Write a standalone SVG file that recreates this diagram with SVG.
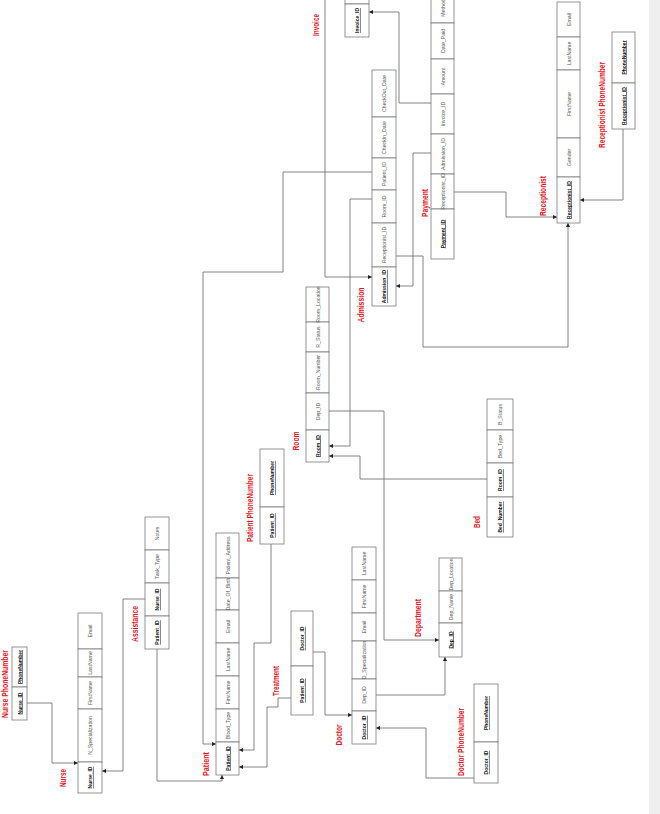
<svg xmlns="http://www.w3.org/2000/svg" width="660" height="814" viewBox="0 0 660 814">
<style>
.cell{fill:#fff;stroke:#7a7a7a;stroke-width:0.8}
.t{font-family:"Liberation Sans",Arial,sans-serif;font-size:5.2px;fill:#555;text-anchor:middle;dominant-baseline:central}
.k{font-family:"Liberation Sans",Arial,sans-serif;font-size:5px;font-weight:bold;fill:#111;text-anchor:middle;dominant-baseline:central;text-decoration:underline}
.lbl{font-family:"Liberation Sans",Arial,sans-serif;font-size:9px;font-weight:bold;fill:#e8141b;text-anchor:middle;dominant-baseline:central}
.conn polyline{fill:none;stroke:#666;stroke-width:0.8;marker-end:url(#ah)}
</style>
<defs>
<marker id="ah" viewBox="0 0 6 6" refX="6" refY="3" markerWidth="4" markerHeight="4" orient="auto" markerUnits="userSpaceOnUse"><path d="M0,0 L6,3 L0,6 z" fill="#222"/></marker>
</defs>
<rect x="0" y="0" width="660" height="814" fill="#fff"/>
<rect x="649" y="0" width="11" height="814" fill="#efefef"/>

<g id="connectors" class="conn">
<polyline points="27,703 52,703 52,763 78,763"/>
<polyline points="145,599 123,599 123,771 102,771"/>
<polyline points="157,649 157,781 222,781 222,775"/>
<polyline points="372,172 283,172 283,272 203,272 203,744 216,744"/>
<polyline points="271,544 271,643 254,643 254,750 239,750"/>
<polyline points="291,698 278,698 278,707 267,707 267,767 239,767"/>
<polyline points="313,652 325,652 325,715 352,715"/>
<polyline points="376,695 445,695 445,657"/>
<polyline points="329,411 384,411 384,640 439,640"/>
<polyline points="474,778 426,778 426,728 376,728"/>
<polyline points="372,199 350,199 350,446 329,446"/>
<polyline points="487,479 360,479 360,456 329,456"/>
<polyline points="325,-5 325,277 372,277"/>
<polyline points="431,153 413,153 413,286 396,286"/>
<polyline points="396,256 423,256 423,347 568,347 568,223"/>
<polyline points="431,103 399,103 399,12 369,12"/>
<polyline points="454,192 506,192 506,217 557,217"/>
<polyline points="623,129 623,200 580,200"/>
</g>

<g id="nurse_phone">
<rect class="cell" x="12" y="647" width="15" height="40"/>
<rect class="cell" x="12" y="687" width="15" height="33"/>
<text class="k" transform="translate(19.5 667) rotate(-90)">PhoneNumber</text>
<text class="k" transform="translate(19.5 703.5) rotate(-90)">Nurse_ID</text>
<text class="lbl" transform="translate(5 684) rotate(-90)" textLength="68" lengthAdjust="spacingAndGlyphs">Nurse PhoneNumber</text>
</g>

<g id="nurse">
<rect class="cell" x="78" y="613" width="24" height="36"/>
<rect class="cell" x="78" y="649" width="24" height="28"/>
<rect class="cell" x="78" y="677" width="24" height="32"/>
<rect class="cell" x="78" y="709" width="24" height="53"/>
<rect class="cell" x="78" y="762" width="24" height="31"/>
<text class="t" transform="translate(90 631) rotate(-90)">Email</text>
<text class="t" transform="translate(90 663) rotate(-90)">LastName</text>
<text class="t" transform="translate(90 693) rotate(-90)">FirstName</text>
<text class="t" transform="translate(90 735.5) rotate(-90)">N_Specialization</text>
<text class="k" transform="translate(90 777.5) rotate(-90)">Nurse_ID</text>
<text class="lbl" transform="translate(62.5 778) rotate(-90)" textLength="18" lengthAdjust="spacingAndGlyphs">Nurse</text>
</g>

<g id="assistance">
<rect class="cell" x="145" y="517" width="24" height="33"/>
<rect class="cell" x="145" y="550" width="24" height="33"/>
<rect class="cell" x="145" y="583" width="24" height="33"/>
<rect class="cell" x="145" y="616" width="24" height="33"/>
<text class="t" transform="translate(157 533.5) rotate(-90)">Notes</text>
<text class="t" transform="translate(157 566.5) rotate(-90)">Task_Type</text>
<text class="k" transform="translate(157 599.5) rotate(-90)">Nurse_ID</text>
<text class="k" transform="translate(157 632.5) rotate(-90)">Patient_ID</text>
<text class="lbl" transform="translate(135 624) rotate(-90)" textLength="36" lengthAdjust="spacingAndGlyphs">Assistance</text>
</g>

<g id="patient">
<rect class="cell" x="216" y="533" width="23" height="45"/>
<rect class="cell" x="216" y="578" width="23" height="32"/>
<rect class="cell" x="216" y="610" width="23" height="33"/>
<rect class="cell" x="216" y="643" width="23" height="33"/>
<rect class="cell" x="216" y="676" width="23" height="33"/>
<rect class="cell" x="216" y="709" width="23" height="33"/>
<rect class="cell" x="216" y="742" width="23" height="33"/>
<text class="t" transform="translate(227.5 555.5) rotate(-90)">Patient_Address</text>
<text class="t" transform="translate(227.5 594) rotate(-90)">Date_Of_Birth</text>
<text class="t" transform="translate(227.5 626.5) rotate(-90)">Email</text>
<text class="t" transform="translate(227.5 659.5) rotate(-90)">LastName</text>
<text class="t" transform="translate(227.5 692.5) rotate(-90)">FirstName</text>
<text class="t" transform="translate(227.5 725.5) rotate(-90)">Blood_Type</text>
<text class="k" transform="translate(227.5 758.5) rotate(-90)">Patient_ID</text>
<text class="lbl" transform="translate(205.5 764) rotate(-90)" textLength="24" lengthAdjust="spacingAndGlyphs">Patient</text>
</g>

<g id="patient_phone">
<rect class="cell" x="260" y="449" width="24" height="58"/>
<rect class="cell" x="260" y="507" width="24" height="37"/>
<text class="k" transform="translate(272 478) rotate(-90)">PhoneNumber</text>
<text class="k" transform="translate(272 525.5) rotate(-90)">Patient_ID</text>
<text class="lbl" transform="translate(249.5 508) rotate(-90)" textLength="68" lengthAdjust="spacingAndGlyphs">Patient PhoneNumber</text>
</g>

<g id="treatment">
<rect class="cell" x="291" y="611" width="22" height="55"/>
<rect class="cell" x="291" y="666" width="22" height="49"/>
<text class="k" transform="translate(302 638.5) rotate(-90)">Doctor_ID</text>
<text class="k" transform="translate(302 690.5) rotate(-90)">Patient_ID</text>
<text class="lbl" transform="translate(276 681) rotate(-90)" textLength="30" lengthAdjust="spacingAndGlyphs">Treatment</text>
</g>

<g id="doctor">
<rect class="cell" x="352" y="547" width="24" height="33"/>
<rect class="cell" x="352" y="580" width="24" height="33"/>
<rect class="cell" x="352" y="613" width="24" height="28"/>
<rect class="cell" x="352" y="641" width="24" height="38"/>
<rect class="cell" x="352" y="679" width="24" height="32"/>
<rect class="cell" x="352" y="711" width="24" height="33"/>
<text class="t" transform="translate(364 563.5) rotate(-90)">LastName</text>
<text class="t" transform="translate(364 596.5) rotate(-90)">FirstName</text>
<text class="t" transform="translate(364 627) rotate(-90)">Email</text>
<text class="t" transform="translate(364 660) rotate(-90)">D_Specialization</text>
<text class="t" transform="translate(364 695) rotate(-90)">Dep_ID</text>
<text class="k" transform="translate(364 727.5) rotate(-90)">Doctor_ID</text>
<text class="lbl" transform="translate(339 735) rotate(-90)" textLength="21" lengthAdjust="spacingAndGlyphs">Doctor</text>
</g>

<g id="department">
<rect class="cell" x="439" y="558" width="23" height="33"/>
<rect class="cell" x="439" y="591" width="23" height="32"/>
<rect class="cell" x="439" y="623" width="23" height="34"/>
<text class="t" transform="translate(450.5 574.5) rotate(-90)">Dep_Location</text>
<text class="t" transform="translate(450.5 607) rotate(-90)">Dep_Name</text>
<text class="k" transform="translate(450.5 640) rotate(-90)">Dep_ID</text>
<text class="lbl" transform="translate(417.5 618) rotate(-90)" textLength="38" lengthAdjust="spacingAndGlyphs">Department</text>
</g>

<g id="doctor_phone">
<rect class="cell" x="474" y="684" width="24" height="58"/>
<rect class="cell" x="474" y="742" width="24" height="41"/>
<text class="k" transform="translate(486 713) rotate(-90)">PhoneNumber</text>
<text class="k" transform="translate(486 762.5) rotate(-90)">Doctor_ID</text>
<text class="lbl" transform="translate(461 742) rotate(-90)" textLength="68" lengthAdjust="spacingAndGlyphs">Doctor PhoneNumber</text>
</g>

<g id="room">
<rect class="cell" x="306" y="287" width="23" height="35"/>
<rect class="cell" x="306" y="322" width="23" height="30"/>
<rect class="cell" x="306" y="352" width="23" height="41"/>
<rect class="cell" x="306" y="393" width="23" height="37"/>
<rect class="cell" x="306" y="430" width="23" height="32"/>
<text class="t" transform="translate(317.5 304.5) rotate(-90)">Room_Location</text>
<text class="t" transform="translate(317.5 337) rotate(-90)">R_Status</text>
<text class="t" transform="translate(317.5 372.5) rotate(-90)">Room_Number</text>
<text class="t" transform="translate(317.5 411.5) rotate(-90)">Dep_ID</text>
<text class="k" transform="translate(317.5 446) rotate(-90)">Room_ID</text>
<text class="lbl" transform="translate(296 441) rotate(-90)" textLength="19" lengthAdjust="spacingAndGlyphs">Room</text>
</g>

<g id="bed">
<rect class="cell" x="487" y="399" width="26" height="31"/>
<rect class="cell" x="487" y="430" width="26" height="33"/>
<rect class="cell" x="487" y="463" width="26" height="34"/>
<rect class="cell" x="487" y="497" width="26" height="40"/>
<text class="t" transform="translate(500 414.5) rotate(-90)">B_Status</text>
<text class="t" transform="translate(500 446.5) rotate(-90)">Bed_Type</text>
<text class="k" transform="translate(500 480) rotate(-90)">Room_ID</text>
<text class="k" transform="translate(500 517) rotate(-90)">Bed_Number</text>
<text class="lbl" transform="translate(476.5 522) rotate(-90)" textLength="12" lengthAdjust="spacingAndGlyphs">Bed</text>
</g>

<g id="admission">
<rect class="cell" x="372" y="70" width="24" height="47"/>
<rect class="cell" x="372" y="117" width="24" height="41"/>
<rect class="cell" x="372" y="158" width="24" height="32"/>
<rect class="cell" x="372" y="190" width="24" height="33"/>
<rect class="cell" x="372" y="223" width="24" height="44"/>
<rect class="cell" x="372" y="267" width="24" height="39"/>
<text class="t" transform="translate(384 93.5) rotate(-90)">CheckOut_Date</text>
<text class="t" transform="translate(384 137.5) rotate(-90)">CheckIn_Date</text>
<text class="t" transform="translate(384 174) rotate(-90)">Patient_ID</text>
<text class="t" transform="translate(384 206.5) rotate(-90)">Room_ID</text>
<text class="t" transform="translate(384 245) rotate(-90)">Receptionist_ID</text>
<text class="k" transform="translate(384 286.5) rotate(-90)">Admission_ID</text>
<text class="lbl" transform="translate(360.5 305) rotate(-90)" textLength="35" lengthAdjust="spacingAndGlyphs">Admission</text>
</g>

<g id="invoice">
<rect class="cell" x="345" y="-30" width="24" height="34"/>
<rect class="cell" x="345" y="4" width="24" height="33"/>
<text class="k" transform="translate(357 20.5) rotate(-90)">Invoice_ID</text>
<text class="lbl" transform="translate(316 25) rotate(-90)" textLength="22" lengthAdjust="spacingAndGlyphs">Invoice</text>
</g>

<g id="payment">
<rect class="cell" x="431" y="-15" width="23" height="38"/>
<rect class="cell" x="431" y="23" width="23" height="36"/>
<rect class="cell" x="431" y="59" width="23" height="35"/>
<rect class="cell" x="431" y="94" width="23" height="40"/>
<rect class="cell" x="431" y="134" width="23" height="40"/>
<rect class="cell" x="431" y="174" width="23" height="35"/>
<rect class="cell" x="431" y="209" width="23" height="50"/>
<text class="t" transform="translate(442.5 8) rotate(-90)">Method</text>
<text class="t" transform="translate(442.5 41) rotate(-90)">Date_Paid</text>
<text class="t" transform="translate(442.5 76.5) rotate(-90)">Amount</text>
<text class="t" transform="translate(442.5 114) rotate(-90)">Invoice_ID</text>
<text class="t" transform="translate(442.5 154) rotate(-90)">Admission_ID</text>
<text class="t" transform="translate(442.5 191.5) rotate(-90)">Receptionist_ID</text>
<text class="k" transform="translate(442.5 234) rotate(-90)">Payment_ID</text>
<text class="lbl" transform="translate(424.5 203) rotate(-90)" textLength="28" lengthAdjust="spacingAndGlyphs">Payment</text>
</g>

<g id="receptionist">
<rect class="cell" x="557" y="2" width="23" height="35"/>
<rect class="cell" x="557" y="37" width="23" height="33"/>
<rect class="cell" x="557" y="70" width="23" height="68"/>
<rect class="cell" x="557" y="138" width="23" height="39"/>
<rect class="cell" x="557" y="177" width="23" height="46"/>
<text class="t" transform="translate(568.5 19.5) rotate(-90)">Email</text>
<text class="t" transform="translate(568.5 53.5) rotate(-90)">LastName</text>
<text class="t" transform="translate(568.5 104) rotate(-90)">FirstName</text>
<text class="t" transform="translate(568.5 157.5) rotate(-90)">Gender</text>
<text class="k" transform="translate(568.5 200) rotate(-90)">Receptionist_ID</text>
<text class="lbl" transform="translate(542.5 196) rotate(-90)" textLength="40" lengthAdjust="spacingAndGlyphs">Receptionist</text>
</g>

<g id="receptionist_phone">
<rect class="cell" x="612" y="32" width="23" height="51"/>
<rect class="cell" x="612" y="83" width="23" height="46"/>
<text class="k" transform="translate(623.5 57.5) rotate(-90)">PhoneNumber</text>
<text class="k" transform="translate(623.5 106) rotate(-90)">Receptionist_ID</text>
<text class="lbl" transform="translate(601.5 105) rotate(-90)" textLength="86" lengthAdjust="spacingAndGlyphs">Receptionist PhoneNumber</text>
</g>
</svg>
